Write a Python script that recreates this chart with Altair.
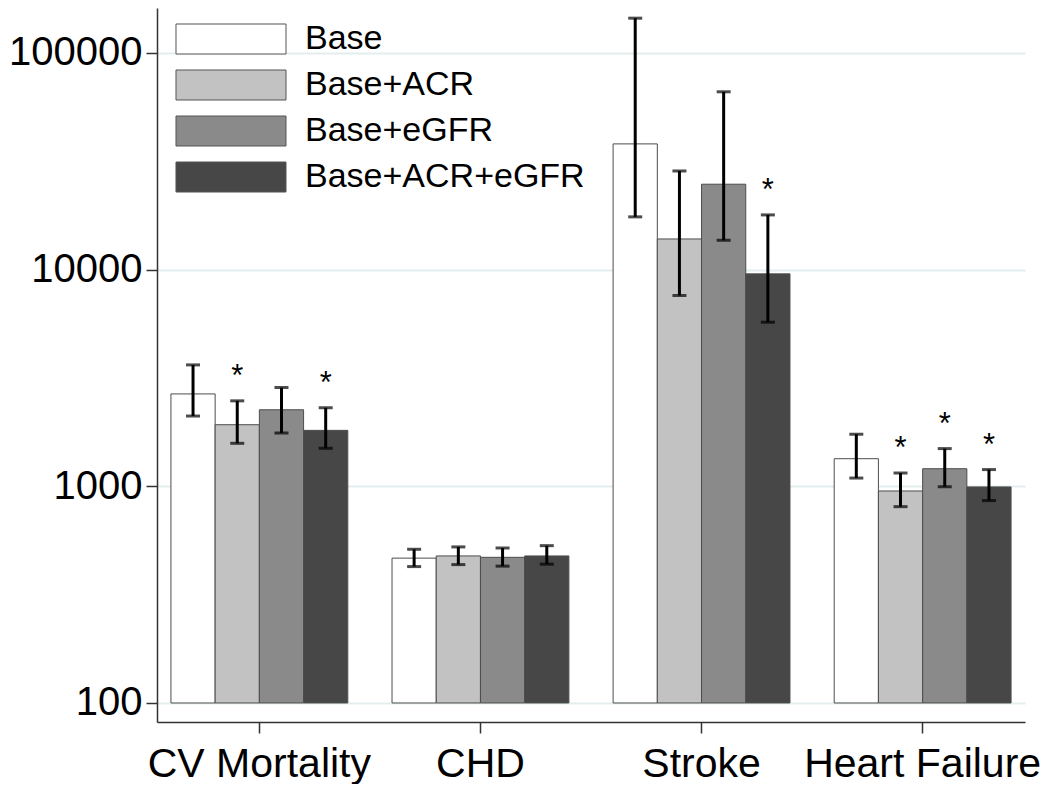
import altair as alt
import pandas as pd

categories = ["CV Mortality", "CHD", "Stroke", "Heart Failure"]
models = ["Base", "Base+ACR", "Base+eGFR", "Base+ACR+eGFR"]
colors = ["#ffffff", "#c2c2c2", "#8a8a8a", "#474747"]

# point estimates (per model, across categories)
est_base = [2667, 466, 38000, 1340]
est_acr = [1923, 477, 13840, 951]
est_egfr = [2254, 470, 24760, 1205]
est_both = [1811, 477, 9550, 993]

# lower CI
lo_base = [2109, 426, 17500, 1091]
lo_acr = [1578, 435, 7590, 805]
lo_egfr = [1762, 428, 13650, 995]
lo_both = [1497, 437, 5716, 859]

# upper CI
hi_base = [3631, 512, 144500, 1738]
hi_acr = [2478, 525, 28500, 1151]
hi_egfr = [2852, 519, 66100, 1492]
hi_both = [2303, 532, 17870, 1194]

# significance markers
sig_base = [False, False, False, False]
sig_acr = [True, False, False, True]
sig_egfr = [False, False, False, True]
sig_both = [True, False, True, True]

y_ticks = [100, 1000, 10000, 100000]

rows = []
for m, est, lo, hi, sig in zip(
    models,
    [est_base, est_acr, est_egfr, est_both],
    [lo_base, lo_acr, lo_egfr, lo_both],
    [hi_base, hi_acr, hi_egfr, hi_both],
    [sig_base, sig_acr, sig_egfr, sig_both],
):
    for c, e, l, h, s in zip(categories, est, lo, hi, sig):
        rows.append({"category": c, "model": m, "estimate": e, "lo": l, "hi": h, "sig": s})
df = pd.DataFrame(rows)

FONT = "Liberation Sans"

x_enc = alt.X(
    "category:N",
    sort=categories,
    scale=alt.Scale(paddingInner=0.2, paddingOuter=0.063),
    axis=alt.Axis(
        title=None, labelAngle=0, labelFontSize=41, labelColor="black",
        tickSize=11, tickColor="#333333", tickWidth=1.5,
        domainColor="#333333", domainWidth=1.5, labelPadding=11, grid=False,
        labelFont=FONT, labelLimit=0,
    ),
)
xo_enc = alt.XOffset("model:N", sort=models, scale=alt.Scale(paddingInner=0, paddingOuter=0))
y_scale = alt.Scale(type="log", domain=[81.7, 161000], nice=False)
y_axis = alt.Axis(
    values=y_ticks, format="d", title=None, labelFontSize=40, labelColor="black",
    labelFont=FONT, tickSize=11, tickColor="#333333", tickWidth=1.5,
    domainColor="#333333", domainWidth=1.5, labelPadding=4,
    grid=True, gridColor="#e3eded", gridWidth=2,
)

base = alt.Chart(df)

bars = base.mark_bar(stroke="#4d4d4d", strokeWidth=1).encode(
    x=x_enc,
    xOffset=xo_enc,
    y=alt.Y("estimate:Q", scale=y_scale, axis=y_axis),
    y2=alt.datum(100),
    color=alt.Color(
        "model:N",
        scale=alt.Scale(domain=models, range=colors),
        legend=alt.Legend(
            title=None, orient="none", legendX=57, legendY=14,
            symbolType="M-3.667,-1H3.667V1H-3.667Z", symbolSize=900,
            symbolStrokeColor="#555555", symbolStrokeWidth=1, symbolOpacity=1,
            labelFontSize=34, labelFont=FONT, labelColor="black",
            labelOffset=57, rowPadding=12, labelLimit=600, padding=0,
        ),
    ),
)

err = base.mark_rule(color="black", strokeWidth=3).encode(
    x=x_enc, xOffset=xo_enc,
    y=alt.Y("lo:Q", scale=y_scale, axis=y_axis),
    y2="hi:Q",
)
cap_hi = base.mark_tick(color="black", thickness=3, size=14).encode(
    x=x_enc, xOffset=xo_enc, y=alt.Y("hi:Q", scale=y_scale, axis=y_axis)
)
cap_lo = base.mark_tick(color="black", thickness=3, size=14).encode(
    x=x_enc, xOffset=xo_enc, y=alt.Y("lo:Q", scale=y_scale, axis=y_axis)
)
stars = base.transform_filter(alt.datum.sig).mark_text(
    text="*", fontSize=31, font=FONT, baseline="alphabetic", dy=-15, color="black"
).encode(
    x=x_enc, xOffset=xo_enc, y=alt.Y("hi:Q", scale=y_scale, axis=y_axis)
)

chart = alt.layer(bars, err, cap_hi, cap_lo, stars).properties(
    width=868, height=714, padding=0, background="white"
).configure(font=FONT).configure_view(stroke=None)

chart.save("out.html", embed_options={"renderer": "svg", "actions": False})
